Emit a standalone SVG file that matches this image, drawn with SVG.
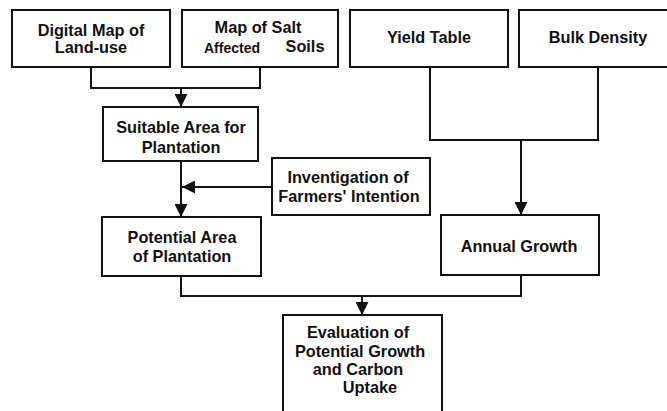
<svg xmlns="http://www.w3.org/2000/svg" width="667" height="411" viewBox="0 0 667 411">
<style>
.box{fill:#fff;stroke:#111;stroke-width:2}
.t{font-family:"Liberation Sans",Arial,sans-serif;font-weight:bold;font-size:16.3px;fill:#111;text-anchor:middle}
.s{font-size:14px}
.c{fill:none;stroke:#111;stroke-width:2}
</style>
<defs>
<marker id="ah" viewBox="0 0 13 13" refX="13" refY="6.5" markerWidth="13" markerHeight="13" markerUnits="userSpaceOnUse" orient="auto">
<path d="M0,0 L13,6.5 L0,13 Z" fill="#111"/>
</marker>
</defs>
<rect width="667" height="411" fill="#fff"/>
<g id="connectors">
<path class="c" d="M91,67 V88 H260 V67"/>
<path class="c" d="M181,88 V107" marker-end="url(#ah)"/>
<path class="c" d="M181,161 V217" marker-end="url(#ah)"/>
<path class="c" d="M272,187 H182" marker-end="url(#ah)"/>
<path class="c" d="M430,67 V140 H598 V67"/>
<path class="c" d="M521,140 V215" marker-end="url(#ah)"/>
<path class="c" d="M181,276 V296 H521 V275"/>
<path class="c" d="M362,296 V315" marker-end="url(#ah)"/>
</g>
<g id="digital-map">
<rect class="box" x="12" y="10" width="158" height="57"/>
<text class="t" x="91" y="36">Digital Map of</text>
<text class="t" x="91" y="53">Land-use</text>
</g>
<g id="salt-map">
<rect class="box" x="182" y="10" width="156" height="57"/>
<text class="t" x="258" y="33">Map of Salt</text>
<text class="t s" x="232" y="53">Affected</text>
<text class="t" x="305" y="52">Soils</text>
</g>
<g id="yield-table">
<rect class="box" x="350" y="10" width="158" height="57"/>
<text class="t" x="429" y="43">Yield Table</text>
</g>
<g id="bulk-density">
<rect class="box" x="519" y="10" width="160" height="57"/>
<text class="t" x="598" y="43">Bulk Density</text>
</g>
<g id="suitable-area">
<rect class="box" x="103" y="107" width="155" height="54"/>
<text class="t" x="181" y="133">Suitable Area for</text>
<text class="t" x="181" y="153">Plantation</text>
</g>
<g id="investigation">
<rect class="box" x="272" y="158" width="158" height="57"/>
<text class="t" x="348" y="183">Inventigation of</text>
<text class="t" x="349" y="202">Farmers' Intention</text>
</g>
<g id="potential-area">
<rect class="box" x="102" y="217" width="159" height="59"/>
<text class="t" x="182" y="243">Potential Area</text>
<text class="t" x="182" y="262">of Plantation</text>
</g>
<g id="annual-growth">
<rect class="box" x="441" y="215" width="158" height="60"/>
<text class="t" x="519" y="252">Annual Growth</text>
</g>
<g id="evaluation">
<rect class="box" x="283" y="315" width="159" height="110"/>
<text class="t" x="358" y="338">Evaluation of</text>
<text class="t" x="360" y="357">Potential Growth</text>
<text class="t" x="358" y="375">and Carbon</text>
<text class="t" x="370" y="393">Uptake</text>
</g>
</svg>
